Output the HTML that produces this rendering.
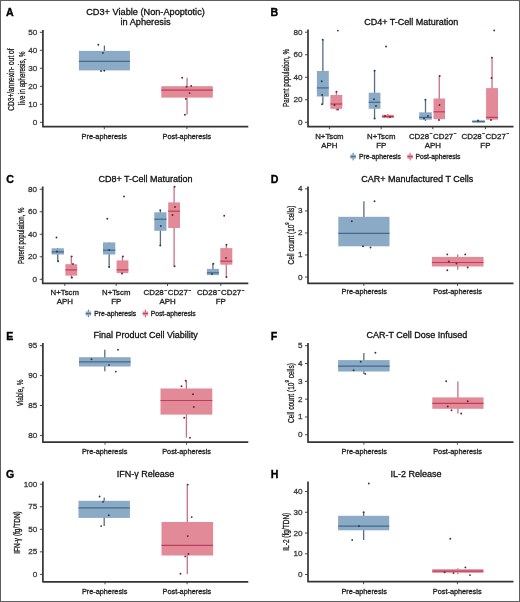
<!DOCTYPE html>
<html><head><meta charset="utf-8"><style>
html,body{margin:0;padding:0;background:#fff;}
svg{display:block;will-change:transform;}
</style></head><body>
<svg width="520" height="602" viewBox="0 0 520 602" font-family="'Liberation Sans', sans-serif">
<rect x="0" y="0" width="520" height="602" fill="#fff"/>
<rect x="0.5" y="0.5" width="519" height="601" fill="none" stroke="#5e5e5e" stroke-width="1"/>
<text x="6.0" y="15.5" font-size="10.6" text-anchor="start" fill="#000" font-weight="bold" stroke="#000" stroke-width="0.35">A</text>
<text x="270.5" y="15.5" font-size="10.6" text-anchor="start" fill="#000" font-weight="bold" stroke="#000" stroke-width="0.35">B</text>
<text x="6.3" y="183" font-size="10.6" text-anchor="start" fill="#000" font-weight="bold" stroke="#000" stroke-width="0.35">C</text>
<text x="270.8" y="183" font-size="10.6" text-anchor="start" fill="#000" font-weight="bold" stroke="#000" stroke-width="0.35">D</text>
<text x="6.3" y="340" font-size="10.6" text-anchor="start" fill="#000" font-weight="bold" stroke="#000" stroke-width="0.35">E</text>
<text x="270.8" y="340" font-size="10.6" text-anchor="start" fill="#000" font-weight="bold" stroke="#000" stroke-width="0.35">F</text>
<text x="6.0" y="478.2" font-size="10.6" text-anchor="start" fill="#000" font-weight="bold" stroke="#000" stroke-width="0.35">G</text>
<text x="270.8" y="478.2" font-size="10.6" text-anchor="start" fill="#000" font-weight="bold" stroke="#000" stroke-width="0.35">H</text>
<path d="M42.9 30 L42.9 126.7 L248.3 126.7" fill="none" stroke="#353535" stroke-width="1.7" stroke-linejoin="round" stroke-linecap="butt"/>
<line x1="39.9" y1="122.3" x2="42.9" y2="122.3" stroke="#353535" stroke-width="0.9"/>
<text x="37.3" y="124.8" font-size="8.1" text-anchor="end" fill="#3a3a3a" font-weight="normal" stroke="#3a3a3a" stroke-width="0.3">0</text>
<line x1="39.9" y1="104.3" x2="42.9" y2="104.3" stroke="#353535" stroke-width="0.9"/>
<text x="37.3" y="106.8" font-size="8.1" text-anchor="end" fill="#3a3a3a" font-weight="normal" stroke="#3a3a3a" stroke-width="0.3">10</text>
<line x1="39.9" y1="86.3" x2="42.9" y2="86.3" stroke="#353535" stroke-width="0.9"/>
<text x="37.3" y="88.8" font-size="8.1" text-anchor="end" fill="#3a3a3a" font-weight="normal" stroke="#3a3a3a" stroke-width="0.3">20</text>
<line x1="39.9" y1="68.3" x2="42.9" y2="68.3" stroke="#353535" stroke-width="0.9"/>
<text x="37.3" y="70.8" font-size="8.1" text-anchor="end" fill="#3a3a3a" font-weight="normal" stroke="#3a3a3a" stroke-width="0.3">30</text>
<line x1="39.9" y1="50.3" x2="42.9" y2="50.3" stroke="#353535" stroke-width="0.9"/>
<text x="37.3" y="52.8" font-size="8.1" text-anchor="end" fill="#3a3a3a" font-weight="normal" stroke="#3a3a3a" stroke-width="0.3">40</text>
<line x1="39.9" y1="32.3" x2="42.9" y2="32.3" stroke="#353535" stroke-width="0.9"/>
<text x="37.3" y="34.8" font-size="8.1" text-anchor="end" fill="#3a3a3a" font-weight="normal" stroke="#3a3a3a" stroke-width="0.3">50</text>
<line x1="104.3" y1="126.7" x2="104.3" y2="129.2" stroke="#353535" stroke-width="0.9"/>
<line x1="186.9" y1="126.7" x2="186.9" y2="129.2" stroke="#353535" stroke-width="0.9"/>
<text x="145.5" y="14.6" font-size="9.2" text-anchor="middle" fill="#111" font-weight="normal" stroke="#111" stroke-width="0.3">CD3+ Viable (Non-Apoptotic)</text>
<text x="145.5" y="24.9" font-size="9.2" text-anchor="middle" fill="#111" font-weight="normal" stroke="#111" stroke-width="0.3">in Apheresis</text>
<text transform="translate(13.8,79.6) rotate(-90)" x="-31.1" y="0" font-size="9.6" textLength="62.2" lengthAdjust="spacingAndGlyphs" fill="#1a1a1a" stroke="#1a1a1a" stroke-width="0.3">CD3+/annexin- out of</text>
<text transform="translate(24.6,78.2) rotate(-90)" x="-26.75" y="0" font-size="9.6" textLength="53.5" lengthAdjust="spacingAndGlyphs" fill="#1a1a1a" stroke="#1a1a1a" stroke-width="0.3">live in apheresis, %</text>
<text x="104.3" y="138.5" font-size="7.3" text-anchor="middle" fill="#222" font-weight="normal" stroke="#222" stroke-width="0.3">Pre-apheresis</text>
<text x="186.9" y="138.5" font-size="7.3" text-anchor="middle" fill="#222" font-weight="normal" stroke="#222" stroke-width="0.3">Post-apheresis</text>
<line x1="104.4" y1="45.5" x2="104.4" y2="71.5" stroke="#556d88" stroke-width="1.3"/>
<rect x="78.9" y="50.9" width="51.0" height="19.500000000000007" fill="#8aaac5"/>
<line x1="78.9" y1="61.4" x2="129.9" y2="61.4" stroke="#44698c" stroke-width="1.2"/>
<circle cx="98.3" cy="44.8" r="0.95" fill="#283a52"/>
<circle cx="103" cy="52.9" r="0.95" fill="#283a52"/>
<circle cx="101" cy="71" r="0.95" fill="#283a52"/>
<circle cx="104.3" cy="70.6" r="0.95" fill="#283a52"/>
<line x1="187.05" y1="77.8" x2="187.05" y2="114.4" stroke="#c86f85" stroke-width="1.3"/>
<rect x="161.3" y="86.2" width="51.5" height="11.399999999999991" fill="#e28a97"/>
<line x1="161.3" y1="90.2" x2="212.8" y2="90.2" stroke="#c03c5c" stroke-width="1.2"/>
<circle cx="182.2" cy="77.8" r="0.95" fill="#5e2438"/>
<circle cx="191.2" cy="85.9" r="0.95" fill="#5e2438"/>
<circle cx="186.6" cy="86.8" r="0.95" fill="#5e2438"/>
<circle cx="189.6" cy="93.1" r="0.95" fill="#5e2438"/>
<circle cx="185.8" cy="98.9" r="0.95" fill="#5e2438"/>
<circle cx="184.9" cy="114.7" r="0.95" fill="#5e2438"/>
<path d="M308 29.5 L308 126.7 L513.5 126.7" fill="none" stroke="#353535" stroke-width="1.7" stroke-linejoin="round" stroke-linecap="butt"/>
<line x1="305" y1="122.3" x2="308" y2="122.3" stroke="#353535" stroke-width="0.9"/>
<text x="302.4" y="124.8" font-size="8.1" text-anchor="end" fill="#3a3a3a" font-weight="normal" stroke="#3a3a3a" stroke-width="0.3">0</text>
<line x1="305" y1="99.78" x2="308" y2="99.78" stroke="#353535" stroke-width="0.9"/>
<text x="302.4" y="102.28" font-size="8.1" text-anchor="end" fill="#3a3a3a" font-weight="normal" stroke="#3a3a3a" stroke-width="0.3">20</text>
<line x1="305" y1="77.26" x2="308" y2="77.26" stroke="#353535" stroke-width="0.9"/>
<text x="302.4" y="79.76" font-size="8.1" text-anchor="end" fill="#3a3a3a" font-weight="normal" stroke="#3a3a3a" stroke-width="0.3">40</text>
<line x1="305" y1="54.74000000000001" x2="308" y2="54.74000000000001" stroke="#353535" stroke-width="0.9"/>
<text x="302.4" y="57.24000000000001" font-size="8.1" text-anchor="end" fill="#3a3a3a" font-weight="normal" stroke="#3a3a3a" stroke-width="0.3">60</text>
<line x1="305" y1="32.22000000000001" x2="308" y2="32.22000000000001" stroke="#353535" stroke-width="0.9"/>
<text x="302.4" y="34.72000000000001" font-size="8.1" text-anchor="end" fill="#3a3a3a" font-weight="normal" stroke="#3a3a3a" stroke-width="0.3">80</text>
<line x1="329.4" y1="126.7" x2="329.4" y2="129.2" stroke="#353535" stroke-width="0.9"/>
<line x1="381.2" y1="126.7" x2="381.2" y2="129.2" stroke="#353535" stroke-width="0.9"/>
<line x1="432.8" y1="126.7" x2="432.8" y2="129.2" stroke="#353535" stroke-width="0.9"/>
<line x1="485.4" y1="126.7" x2="485.4" y2="129.2" stroke="#353535" stroke-width="0.9"/>
<text x="411.3" y="24.5" font-size="9" text-anchor="middle" fill="#111" font-weight="normal" stroke="#111" stroke-width="0.3">CD4+ T-Cell Maturation</text>
<text transform="translate(288.8,78.0) rotate(-90)" x="-28.95" y="0" font-size="9.6" textLength="57.9" lengthAdjust="spacingAndGlyphs" fill="#1a1a1a" stroke="#1a1a1a" stroke-width="0.3">Parent population, %</text>
<text x="329.4" y="138.6" font-size="7.8" text-anchor="middle" fill="#222" font-weight="normal" stroke="#222" stroke-width="0.3">N+Tscm</text>
<text x="329.4" y="147.5" font-size="7.9" text-anchor="middle" fill="#222" font-weight="normal" stroke="#222" stroke-width="0.3">APH</text>
<text x="381.2" y="138.6" font-size="7.8" text-anchor="middle" fill="#222" font-weight="normal" stroke="#222" stroke-width="0.3">N+Tscm</text>
<text x="381.2" y="147.5" font-size="7.9" text-anchor="middle" fill="#222" font-weight="normal" stroke="#222" stroke-width="0.3">FP</text>
<text x="432.8" y="138.6" font-size="7.9" text-anchor="middle" fill="#222" font-weight="normal" stroke="#222" stroke-width="0.3">CD28<tspan dx='0.6' dy='-3.4' font-size='5'>−</tspan><tspan dx='0.4' dy='3.4'>CD27</tspan><tspan dx='0.6' dy='-3.4' font-size='5'>−</tspan></text>
<text x="432.8" y="147.5" font-size="7.9" text-anchor="middle" fill="#222" font-weight="normal" stroke="#222" stroke-width="0.3">APH</text>
<text x="485.4" y="138.6" font-size="7.9" text-anchor="middle" fill="#222" font-weight="normal" stroke="#222" stroke-width="0.3">CD28<tspan dx='0.6' dy='-3.4' font-size='5'>−</tspan><tspan dx='0.4' dy='3.4'>CD27</tspan><tspan dx='0.6' dy='-3.4' font-size='5'>−</tspan></text>
<text x="485.4" y="147.5" font-size="7.9" text-anchor="middle" fill="#222" font-weight="normal" stroke="#222" stroke-width="0.3">FP</text>
<line x1="322.85" y1="39.5" x2="322.85" y2="104.4" stroke="#556d88" stroke-width="1.3"/>
<rect x="316.9" y="71" width="11.900000000000034" height="25.5" fill="#8aaac5"/>
<line x1="316.9" y1="87.9" x2="328.8" y2="87.9" stroke="#44698c" stroke-width="1.2"/>
<circle cx="321.7" cy="81.2" r="0.95" fill="#283a52"/>
<circle cx="322.1" cy="95" r="0.95" fill="#283a52"/>
<circle cx="322" cy="104.2" r="0.95" fill="#283a52"/>
<circle cx="322.7" cy="39.8" r="0.95" fill="#283a52"/>
<line x1="336.35" y1="91.5" x2="336.35" y2="110.4" stroke="#c86f85" stroke-width="1.3"/>
<rect x="330.4" y="95" width="11.900000000000034" height="13.799999999999997" fill="#e28a97"/>
<line x1="330.4" y1="104" x2="342.3" y2="104" stroke="#c03c5c" stroke-width="1.2"/>
<circle cx="337.9" cy="30.6" r="0.95" fill="#5e2438"/>
<circle cx="336.5" cy="91.8" r="0.95" fill="#5e2438"/>
<circle cx="334.5" cy="105" r="0.95" fill="#5e2438"/>
<circle cx="338" cy="109.5" r="0.95" fill="#5e2438"/>
<line x1="374.54999999999995" y1="70.4" x2="374.54999999999995" y2="119" stroke="#556d88" stroke-width="1.3"/>
<rect x="368.7" y="92.7" width="11.699999999999989" height="16.099999999999994" fill="#8aaac5"/>
<line x1="368.7" y1="102.3" x2="380.4" y2="102.3" stroke="#44698c" stroke-width="1.2"/>
<circle cx="374" cy="99.2" r="0.95" fill="#283a52"/>
<circle cx="376" cy="106" r="0.95" fill="#283a52"/>
<circle cx="374.6" cy="70.8" r="0.95" fill="#283a52"/>
<circle cx="374.6" cy="118.5" r="0.95" fill="#283a52"/>
<line x1="387.95000000000005" y1="114" x2="387.95000000000005" y2="118.5" stroke="#c86f85" stroke-width="1.3"/>
<rect x="382.1" y="114.8" width="11.699999999999989" height="3.200000000000003" fill="#e28a97"/>
<line x1="382.1" y1="116.5" x2="393.8" y2="116.5" stroke="#c03c5c" stroke-width="1.2"/>
<circle cx="386" cy="46.5" r="0.95" fill="#5e2438"/>
<circle cx="385" cy="116" r="0.95" fill="#5e2438"/>
<circle cx="390" cy="117" r="0.95" fill="#5e2438"/>
<line x1="425.5" y1="99.6" x2="425.5" y2="121" stroke="#556d88" stroke-width="1.3"/>
<rect x="419.2" y="112.3" width="12.600000000000023" height="7.400000000000006" fill="#8aaac5"/>
<line x1="419.2" y1="117.4" x2="431.8" y2="117.4" stroke="#44698c" stroke-width="1.2"/>
<circle cx="425.4" cy="99.8" r="0.95" fill="#283a52"/>
<circle cx="424" cy="118.5" r="0.95" fill="#283a52"/>
<circle cx="428" cy="116" r="0.95" fill="#283a52"/>
<line x1="439.25" y1="75.8" x2="439.25" y2="119.2" stroke="#c86f85" stroke-width="1.3"/>
<rect x="433.5" y="98.5" width="11.5" height="20.700000000000003" fill="#e28a97"/>
<line x1="433.5" y1="111.8" x2="445" y2="111.8" stroke="#c03c5c" stroke-width="1.2"/>
<circle cx="439.7" cy="76" r="0.95" fill="#5e2438"/>
<circle cx="439.5" cy="105" r="0.95" fill="#5e2438"/>
<circle cx="439" cy="120" r="0.95" fill="#5e2438"/>
<line x1="478.54999999999995" y1="120" x2="478.54999999999995" y2="122.7" stroke="#556d88" stroke-width="1.3"/>
<rect x="472.2" y="120.4" width="12.699999999999989" height="2.299999999999997" fill="#8aaac5"/>
<line x1="472.2" y1="121.5" x2="484.9" y2="121.5" stroke="#44698c" stroke-width="1.2"/>
<circle cx="478" cy="120.5" r="0.95" fill="#283a52"/>
<line x1="492.05" y1="57.4" x2="492.05" y2="119.7" stroke="#c86f85" stroke-width="1.3"/>
<rect x="486.1" y="88.1" width="11.899999999999977" height="31.60000000000001" fill="#e28a97"/>
<line x1="486.1" y1="117.4" x2="498" y2="117.4" stroke="#c03c5c" stroke-width="1.2"/>
<circle cx="494.2" cy="30.4" r="0.95" fill="#5e2438"/>
<circle cx="491.9" cy="57.6" r="0.95" fill="#5e2438"/>
<circle cx="491.5" cy="78" r="0.95" fill="#5e2438"/>
<circle cx="491" cy="120" r="0.95" fill="#5e2438"/>
<line x1="353.09999999999997" y1="152.79999999999998" x2="353.09999999999997" y2="160.4" stroke="#44698c" stroke-width="0.9"/>
<rect x="350.4" y="154.6" width="5.4" height="4" fill="#8aaac5"/>
<line x1="350.4" y1="156.6" x2="355.79999999999995" y2="156.6" stroke="#44698c" stroke-width="0.9"/>
<text x="358.9" y="159.0" font-size="6.75" text-anchor="start" fill="#222" font-weight="normal" stroke="#222" stroke-width="0.3">Pre-apheresis</text>
<line x1="410.09999999999997" y1="152.79999999999998" x2="410.09999999999997" y2="160.4" stroke="#c03c5c" stroke-width="0.9"/>
<rect x="407.4" y="154.6" width="5.4" height="4" fill="#e28a97"/>
<line x1="407.4" y1="156.6" x2="412.79999999999995" y2="156.6" stroke="#c03c5c" stroke-width="0.9"/>
<text x="415.4" y="159.0" font-size="6.75" text-anchor="start" fill="#222" font-weight="normal" stroke="#222" stroke-width="0.3">Post-apheresis</text>
<path d="M42.7 186.6 L42.7 283.4 L248.3 283.4" fill="none" stroke="#353535" stroke-width="1.7" stroke-linejoin="round" stroke-linecap="butt"/>
<line x1="39.7" y1="279.3" x2="42.7" y2="279.3" stroke="#353535" stroke-width="0.9"/>
<text x="37.1" y="281.8" font-size="8.1" text-anchor="end" fill="#3a3a3a" font-weight="normal" stroke="#3a3a3a" stroke-width="0.3">0</text>
<line x1="39.7" y1="256.78000000000003" x2="42.7" y2="256.78000000000003" stroke="#353535" stroke-width="0.9"/>
<text x="37.1" y="259.28000000000003" font-size="8.1" text-anchor="end" fill="#3a3a3a" font-weight="normal" stroke="#3a3a3a" stroke-width="0.3">20</text>
<line x1="39.7" y1="234.26000000000002" x2="42.7" y2="234.26000000000002" stroke="#353535" stroke-width="0.9"/>
<text x="37.1" y="236.76000000000002" font-size="8.1" text-anchor="end" fill="#3a3a3a" font-weight="normal" stroke="#3a3a3a" stroke-width="0.3">40</text>
<line x1="39.7" y1="211.74" x2="42.7" y2="211.74" stroke="#353535" stroke-width="0.9"/>
<text x="37.1" y="214.24" font-size="8.1" text-anchor="end" fill="#3a3a3a" font-weight="normal" stroke="#3a3a3a" stroke-width="0.3">60</text>
<line x1="39.7" y1="189.22000000000003" x2="42.7" y2="189.22000000000003" stroke="#353535" stroke-width="0.9"/>
<text x="37.1" y="191.72000000000003" font-size="8.1" text-anchor="end" fill="#3a3a3a" font-weight="normal" stroke="#3a3a3a" stroke-width="0.3">80</text>
<line x1="64.8" y1="283.4" x2="64.8" y2="285.9" stroke="#353535" stroke-width="0.9"/>
<line x1="116.2" y1="283.4" x2="116.2" y2="285.9" stroke="#353535" stroke-width="0.9"/>
<line x1="167.5" y1="283.4" x2="167.5" y2="285.9" stroke="#353535" stroke-width="0.9"/>
<line x1="220.8" y1="283.4" x2="220.8" y2="285.9" stroke="#353535" stroke-width="0.9"/>
<text x="145.5" y="182.0" font-size="9" text-anchor="middle" fill="#111" font-weight="normal" stroke="#111" stroke-width="0.3">CD8+ T-Cell Maturation</text>
<text transform="translate(24.0,235.8) rotate(-90)" x="-28.2" y="0" font-size="9.6" textLength="56.4" lengthAdjust="spacingAndGlyphs" fill="#1a1a1a" stroke="#1a1a1a" stroke-width="0.3">Parent population, %</text>
<text x="64.8" y="295.3" font-size="7.8" text-anchor="middle" fill="#222" font-weight="normal" stroke="#222" stroke-width="0.3">N+Tscm</text>
<text x="64.8" y="304.1" font-size="7.9" text-anchor="middle" fill="#222" font-weight="normal" stroke="#222" stroke-width="0.3">APH</text>
<text x="116.2" y="295.3" font-size="7.8" text-anchor="middle" fill="#222" font-weight="normal" stroke="#222" stroke-width="0.3">N+Tscm</text>
<text x="116.2" y="304.1" font-size="7.9" text-anchor="middle" fill="#222" font-weight="normal" stroke="#222" stroke-width="0.3">FP</text>
<text x="167.5" y="295.3" font-size="7.9" text-anchor="middle" fill="#222" font-weight="normal" stroke="#222" stroke-width="0.3">CD28<tspan dx='0.6' dy='-3.4' font-size='5'>−</tspan><tspan dx='0.4' dy='3.4'>CD27</tspan><tspan dx='0.6' dy='-3.4' font-size='5'>−</tspan></text>
<text x="167.5" y="304.1" font-size="7.9" text-anchor="middle" fill="#222" font-weight="normal" stroke="#222" stroke-width="0.3">APH</text>
<text x="220.8" y="295.3" font-size="7.9" text-anchor="middle" fill="#222" font-weight="normal" stroke="#222" stroke-width="0.3">CD28<tspan dx='0.6' dy='-3.4' font-size='5'>−</tspan><tspan dx='0.4' dy='3.4'>CD27</tspan><tspan dx='0.6' dy='-3.4' font-size='5'>−</tspan></text>
<text x="220.8" y="304.1" font-size="7.9" text-anchor="middle" fill="#222" font-weight="normal" stroke="#222" stroke-width="0.3">FP</text>
<line x1="57.75" y1="248" x2="57.75" y2="261.4" stroke="#556d88" stroke-width="1.3"/>
<rect x="51.6" y="248.3" width="12.299999999999997" height="6.199999999999989" fill="#8aaac5"/>
<line x1="51.6" y1="251.9" x2="63.9" y2="251.9" stroke="#44698c" stroke-width="1.2"/>
<circle cx="56.5" cy="237.5" r="0.95" fill="#283a52"/>
<circle cx="58.2" cy="261.2" r="0.95" fill="#283a52"/>
<circle cx="57" cy="251.5" r="0.95" fill="#283a52"/>
<line x1="71.30000000000001" y1="256.2" x2="71.30000000000001" y2="278.4" stroke="#c86f85" stroke-width="1.3"/>
<rect x="65.4" y="264.2" width="11.799999999999997" height="11.400000000000034" fill="#e28a97"/>
<line x1="65.4" y1="269.9" x2="77.2" y2="269.9" stroke="#c03c5c" stroke-width="1.2"/>
<circle cx="71.7" cy="256.4" r="0.95" fill="#5e2438"/>
<circle cx="73" cy="264" r="0.95" fill="#5e2438"/>
<circle cx="72" cy="277.5" r="0.95" fill="#5e2438"/>
<line x1="109.15" y1="242.4" x2="109.15" y2="267.2" stroke="#556d88" stroke-width="1.3"/>
<rect x="103" y="242.4" width="12.299999999999997" height="12.099999999999994" fill="#8aaac5"/>
<line x1="103" y1="250.2" x2="115.3" y2="250.2" stroke="#44698c" stroke-width="1.2"/>
<circle cx="107.3" cy="218.7" r="0.95" fill="#283a52"/>
<circle cx="109.2" cy="250" r="0.95" fill="#283a52"/>
<circle cx="109.2" cy="267" r="0.95" fill="#283a52"/>
<line x1="122.5" y1="256.2" x2="122.5" y2="274.1" stroke="#c86f85" stroke-width="1.3"/>
<rect x="116.6" y="260.4" width="11.800000000000011" height="12.700000000000045" fill="#e28a97"/>
<line x1="116.6" y1="269.9" x2="128.4" y2="269.9" stroke="#c03c5c" stroke-width="1.2"/>
<circle cx="124" cy="196.5" r="0.95" fill="#5e2438"/>
<circle cx="122.9" cy="256.4" r="0.95" fill="#5e2438"/>
<circle cx="122" cy="273.5" r="0.95" fill="#5e2438"/>
<line x1="160.4" y1="210" x2="160.4" y2="245.8" stroke="#556d88" stroke-width="1.3"/>
<rect x="154.3" y="212.3" width="12.199999999999989" height="18.5" fill="#8aaac5"/>
<line x1="154.3" y1="219.2" x2="166.5" y2="219.2" stroke="#44698c" stroke-width="1.2"/>
<circle cx="160.3" cy="210.2" r="0.95" fill="#283a52"/>
<circle cx="160.8" cy="226" r="0.95" fill="#283a52"/>
<circle cx="160.3" cy="245.5" r="0.95" fill="#283a52"/>
<line x1="174.1" y1="186.5" x2="174.1" y2="266.5" stroke="#c86f85" stroke-width="1.3"/>
<rect x="168.2" y="202.4" width="11.800000000000011" height="25.599999999999994" fill="#e28a97"/>
<line x1="168.2" y1="211.2" x2="180" y2="211.2" stroke="#c03c5c" stroke-width="1.2"/>
<circle cx="174.6" cy="186.8" r="0.95" fill="#5e2438"/>
<circle cx="175" cy="207" r="0.95" fill="#5e2438"/>
<circle cx="172.5" cy="215" r="0.95" fill="#5e2438"/>
<circle cx="174.6" cy="266.3" r="0.95" fill="#5e2438"/>
<line x1="212.9" y1="263.5" x2="212.9" y2="275.1" stroke="#556d88" stroke-width="1.3"/>
<rect x="206.9" y="268.9" width="12.0" height="6.2000000000000455" fill="#8aaac5"/>
<line x1="206.9" y1="272.8" x2="218.9" y2="272.8" stroke="#44698c" stroke-width="1.2"/>
<circle cx="213.4" cy="263.8" r="0.95" fill="#283a52"/>
<circle cx="212" cy="274" r="0.95" fill="#283a52"/>
<line x1="226.3" y1="244.6" x2="226.3" y2="277.4" stroke="#c86f85" stroke-width="1.3"/>
<rect x="220.3" y="248.1" width="12.0" height="16.599999999999994" fill="#e28a97"/>
<line x1="220.3" y1="261.2" x2="232.3" y2="261.2" stroke="#c03c5c" stroke-width="1.2"/>
<circle cx="224.2" cy="215.8" r="0.95" fill="#5e2438"/>
<circle cx="226.5" cy="244.8" r="0.95" fill="#5e2438"/>
<circle cx="226" cy="258" r="0.95" fill="#5e2438"/>
<circle cx="226.5" cy="277" r="0.95" fill="#5e2438"/>
<line x1="88.4" y1="309.7" x2="88.4" y2="317.3" stroke="#44698c" stroke-width="0.9"/>
<rect x="85.7" y="311.5" width="5.4" height="4" fill="#8aaac5"/>
<line x1="85.7" y1="313.5" x2="91.10000000000001" y2="313.5" stroke="#44698c" stroke-width="0.9"/>
<text x="94.2" y="315.9" font-size="6.75" text-anchor="start" fill="#222" font-weight="normal" stroke="#222" stroke-width="0.3">Pre-apheresis</text>
<line x1="145.39999999999998" y1="309.7" x2="145.39999999999998" y2="317.3" stroke="#c03c5c" stroke-width="0.9"/>
<rect x="142.7" y="311.5" width="5.4" height="4" fill="#e28a97"/>
<line x1="142.7" y1="313.5" x2="148.1" y2="313.5" stroke="#c03c5c" stroke-width="0.9"/>
<text x="150.7" y="315.9" font-size="6.75" text-anchor="start" fill="#222" font-weight="normal" stroke="#222" stroke-width="0.3">Post-apheresis</text>
<path d="M308 186.6 L308 283.4 L513.5 283.4" fill="none" stroke="#353535" stroke-width="1.7" stroke-linejoin="round" stroke-linecap="butt"/>
<line x1="305" y1="277.0" x2="308" y2="277.0" stroke="#353535" stroke-width="0.9"/>
<text x="302.4" y="279.5" font-size="8.1" text-anchor="end" fill="#3a3a3a" font-weight="normal" stroke="#3a3a3a" stroke-width="0.3">0</text>
<line x1="305" y1="254.97" x2="308" y2="254.97" stroke="#353535" stroke-width="0.9"/>
<text x="302.4" y="257.47" font-size="8.1" text-anchor="end" fill="#3a3a3a" font-weight="normal" stroke="#3a3a3a" stroke-width="0.3">1</text>
<line x1="305" y1="232.94" x2="308" y2="232.94" stroke="#353535" stroke-width="0.9"/>
<text x="302.4" y="235.44" font-size="8.1" text-anchor="end" fill="#3a3a3a" font-weight="normal" stroke="#3a3a3a" stroke-width="0.3">2</text>
<line x1="305" y1="210.91" x2="308" y2="210.91" stroke="#353535" stroke-width="0.9"/>
<text x="302.4" y="213.41" font-size="8.1" text-anchor="end" fill="#3a3a3a" font-weight="normal" stroke="#3a3a3a" stroke-width="0.3">3</text>
<line x1="305" y1="188.88" x2="308" y2="188.88" stroke="#353535" stroke-width="0.9"/>
<text x="302.4" y="191.38" font-size="8.1" text-anchor="end" fill="#3a3a3a" font-weight="normal" stroke="#3a3a3a" stroke-width="0.3">4</text>
<line x1="363.8" y1="283.4" x2="363.8" y2="285.9" stroke="#353535" stroke-width="0.9"/>
<line x1="457.5" y1="283.4" x2="457.5" y2="285.9" stroke="#353535" stroke-width="0.9"/>
<text x="417.3" y="181.75" font-size="9" text-anchor="middle" fill="#111" font-weight="normal" stroke="#111" stroke-width="0.3">CAR+ Manufactured T Cells</text>
<text transform="translate(293.5,235) rotate(-90)" x="-29.5" font-size="9.6" textLength="59" lengthAdjust="spacingAndGlyphs" fill="#1a1a1a" stroke="#1a1a1a" stroke-width="0.3">Cell count (10<tspan dy="-4.2" font-size="6.2">9</tspan><tspan dy="4.2"> cells)</tspan></text>
<text x="364.3" y="294" font-size="7.3" text-anchor="middle" fill="#222" font-weight="normal" stroke="#222" stroke-width="0.3">Pre-apheresis</text>
<text x="457.6" y="294" font-size="7.3" text-anchor="middle" fill="#222" font-weight="normal" stroke="#222" stroke-width="0.3">Post-apheresis</text>
<line x1="363.9" y1="201.3" x2="363.9" y2="246.3" stroke="#556d88" stroke-width="1.3"/>
<rect x="338.3" y="216.8" width="51.19999999999999" height="29.5" fill="#8aaac5"/>
<line x1="338.3" y1="233.3" x2="389.5" y2="233.3" stroke="#44698c" stroke-width="1.2"/>
<circle cx="374.5" cy="201.3" r="0.95" fill="#283a52"/>
<circle cx="351.8" cy="221.3" r="0.95" fill="#283a52"/>
<circle cx="363" cy="246.3" r="0.95" fill="#283a52"/>
<circle cx="370.5" cy="247.5" r="0.95" fill="#283a52"/>
<line x1="457.7" y1="254.4" x2="457.7" y2="269.8" stroke="#c86f85" stroke-width="1.3"/>
<rect x="431.9" y="256.9" width="51.60000000000002" height="9.600000000000023" fill="#e28a97"/>
<line x1="431.9" y1="262.5" x2="483.5" y2="262.5" stroke="#c03c5c" stroke-width="1.2"/>
<circle cx="447.3" cy="254.4" r="0.95" fill="#5e2438"/>
<circle cx="465.2" cy="254.4" r="0.95" fill="#5e2438"/>
<circle cx="448.8" cy="261.5" r="0.95" fill="#5e2438"/>
<circle cx="456.5" cy="263.5" r="0.95" fill="#5e2438"/>
<circle cx="447.3" cy="270.2" r="0.95" fill="#5e2438"/>
<circle cx="467.7" cy="267.5" r="0.95" fill="#5e2438"/>
<path d="M42.9 343.1 L42.9 442.2 L248.3 442.2" fill="none" stroke="#353535" stroke-width="1.7" stroke-linejoin="round" stroke-linecap="butt"/>
<line x1="39.9" y1="435.4" x2="42.9" y2="435.4" stroke="#353535" stroke-width="0.9"/>
<text x="37.3" y="437.9" font-size="8.1" text-anchor="end" fill="#3a3a3a" font-weight="normal" stroke="#3a3a3a" stroke-width="0.3">80</text>
<line x1="39.9" y1="405.5" x2="42.9" y2="405.5" stroke="#353535" stroke-width="0.9"/>
<text x="37.3" y="408.0" font-size="8.1" text-anchor="end" fill="#3a3a3a" font-weight="normal" stroke="#3a3a3a" stroke-width="0.3">85</text>
<line x1="39.9" y1="375.59999999999997" x2="42.9" y2="375.59999999999997" stroke="#353535" stroke-width="0.9"/>
<text x="37.3" y="378.09999999999997" font-size="8.1" text-anchor="end" fill="#3a3a3a" font-weight="normal" stroke="#3a3a3a" stroke-width="0.3">90</text>
<line x1="39.9" y1="345.7" x2="42.9" y2="345.7" stroke="#353535" stroke-width="0.9"/>
<text x="37.3" y="348.2" font-size="8.1" text-anchor="end" fill="#3a3a3a" font-weight="normal" stroke="#3a3a3a" stroke-width="0.3">95</text>
<line x1="105" y1="442.2" x2="105" y2="444.7" stroke="#353535" stroke-width="0.9"/>
<line x1="186.5" y1="442.2" x2="186.5" y2="444.7" stroke="#353535" stroke-width="0.9"/>
<text x="145.6" y="338" font-size="9" text-anchor="middle" fill="#111" font-weight="normal" stroke="#111" stroke-width="0.3">Final Product Cell Viability</text>
<text transform="translate(23.4,392.9) rotate(-90)" x="-13.45" y="0" font-size="9.6" textLength="26.9" lengthAdjust="spacingAndGlyphs" fill="#1a1a1a" stroke="#1a1a1a" stroke-width="0.3">Viable, %</text>
<text x="104.6" y="454" font-size="7.3" text-anchor="middle" fill="#222" font-weight="normal" stroke="#222" stroke-width="0.3">Pre-apheresis</text>
<text x="186.6" y="454" font-size="7.3" text-anchor="middle" fill="#222" font-weight="normal" stroke="#222" stroke-width="0.3">Post-apheresis</text>
<line x1="104.8" y1="349.7" x2="104.8" y2="371.2" stroke="#556d88" stroke-width="1.3"/>
<rect x="79" y="357.2" width="51.599999999999994" height="9.300000000000011" fill="#8aaac5"/>
<line x1="79" y1="361.9" x2="130.6" y2="361.9" stroke="#44698c" stroke-width="1.2"/>
<circle cx="118" cy="349.7" r="0.95" fill="#283a52"/>
<circle cx="91.5" cy="359.2" r="0.95" fill="#283a52"/>
<circle cx="109" cy="364.9" r="0.95" fill="#283a52"/>
<circle cx="115.8" cy="371.6" r="0.95" fill="#283a52"/>
<line x1="186.4" y1="380.5" x2="186.4" y2="437.7" stroke="#c86f85" stroke-width="1.3"/>
<rect x="160.5" y="388.5" width="51.80000000000001" height="26.100000000000023" fill="#e28a97"/>
<line x1="160.5" y1="400.5" x2="212.3" y2="400.5" stroke="#c03c5c" stroke-width="1.2"/>
<circle cx="185.7" cy="380.8" r="0.95" fill="#5e2438"/>
<circle cx="181.5" cy="386.2" r="0.95" fill="#5e2438"/>
<circle cx="193" cy="394.2" r="0.95" fill="#5e2438"/>
<circle cx="193.8" cy="406.9" r="0.95" fill="#5e2438"/>
<circle cx="184.2" cy="417.7" r="0.95" fill="#5e2438"/>
<circle cx="190" cy="437.7" r="0.95" fill="#5e2438"/>
<path d="M308 343.1 L308 442.2 L513.5 442.2" fill="none" stroke="#353535" stroke-width="1.7" stroke-linejoin="round" stroke-linecap="butt"/>
<line x1="305" y1="434.8" x2="308" y2="434.8" stroke="#353535" stroke-width="0.9"/>
<text x="302.4" y="437.3" font-size="8.1" text-anchor="end" fill="#3a3a3a" font-weight="normal" stroke="#3a3a3a" stroke-width="0.3">0</text>
<line x1="305" y1="416.98" x2="308" y2="416.98" stroke="#353535" stroke-width="0.9"/>
<text x="302.4" y="419.48" font-size="8.1" text-anchor="end" fill="#3a3a3a" font-weight="normal" stroke="#3a3a3a" stroke-width="0.3">1</text>
<line x1="305" y1="399.16" x2="308" y2="399.16" stroke="#353535" stroke-width="0.9"/>
<text x="302.4" y="401.66" font-size="8.1" text-anchor="end" fill="#3a3a3a" font-weight="normal" stroke="#3a3a3a" stroke-width="0.3">2</text>
<line x1="305" y1="381.34000000000003" x2="308" y2="381.34000000000003" stroke="#353535" stroke-width="0.9"/>
<text x="302.4" y="383.84000000000003" font-size="8.1" text-anchor="end" fill="#3a3a3a" font-weight="normal" stroke="#3a3a3a" stroke-width="0.3">3</text>
<line x1="305" y1="363.52" x2="308" y2="363.52" stroke="#353535" stroke-width="0.9"/>
<text x="302.4" y="366.02" font-size="8.1" text-anchor="end" fill="#3a3a3a" font-weight="normal" stroke="#3a3a3a" stroke-width="0.3">4</text>
<line x1="305" y1="345.70000000000005" x2="308" y2="345.70000000000005" stroke="#353535" stroke-width="0.9"/>
<text x="302.4" y="348.20000000000005" font-size="8.1" text-anchor="end" fill="#3a3a3a" font-weight="normal" stroke="#3a3a3a" stroke-width="0.3">5</text>
<line x1="363.9" y1="442.2" x2="363.9" y2="444.7" stroke="#353535" stroke-width="0.9"/>
<line x1="457.4" y1="442.2" x2="457.4" y2="444.7" stroke="#353535" stroke-width="0.9"/>
<text x="416.9" y="338.1" font-size="9" text-anchor="middle" fill="#111" font-weight="normal" stroke="#111" stroke-width="0.3">CAR-T Cell Dose Infused</text>
<text transform="translate(293.5,393) rotate(-90)" x="-30" font-size="9.6" textLength="60" lengthAdjust="spacingAndGlyphs" fill="#1a1a1a" stroke="#1a1a1a" stroke-width="0.3">Cell count (10<tspan dy="-4.2" font-size="6.2">9</tspan><tspan dy="4.2"> cells)</tspan></text>
<text x="364.3" y="454" font-size="7.3" text-anchor="middle" fill="#222" font-weight="normal" stroke="#222" stroke-width="0.3">Pre-apheresis</text>
<text x="457.6" y="454" font-size="7.3" text-anchor="middle" fill="#222" font-weight="normal" stroke="#222" stroke-width="0.3">Post-apheresis</text>
<line x1="363.85" y1="353.1" x2="363.85" y2="373.9" stroke="#556d88" stroke-width="1.3"/>
<rect x="338.1" y="360.1" width="51.5" height="11.399999999999977" fill="#8aaac5"/>
<line x1="338.1" y1="366.1" x2="389.6" y2="366.1" stroke="#44698c" stroke-width="1.2"/>
<circle cx="375.4" cy="352.7" r="0.95" fill="#283a52"/>
<circle cx="360.7" cy="361.8" r="0.95" fill="#283a52"/>
<circle cx="353.6" cy="370.2" r="0.95" fill="#283a52"/>
<circle cx="365.3" cy="373.9" r="0.95" fill="#283a52"/>
<line x1="457.9" y1="381.5" x2="457.9" y2="413.5" stroke="#c86f85" stroke-width="1.3"/>
<rect x="432.3" y="397.4" width="51.19999999999999" height="11.400000000000034" fill="#e28a97"/>
<line x1="432.3" y1="403.4" x2="483.5" y2="403.4" stroke="#c03c5c" stroke-width="1.2"/>
<circle cx="446.2" cy="381.2" r="0.95" fill="#5e2438"/>
<circle cx="467.7" cy="401.2" r="0.95" fill="#5e2438"/>
<circle cx="447.7" cy="406.5" r="0.95" fill="#5e2438"/>
<circle cx="451.5" cy="410.3" r="0.95" fill="#5e2438"/>
<circle cx="461.2" cy="413.5" r="0.95" fill="#5e2438"/>
<path d="M42.9 481.6 L42.9 581.8 L248.3 581.8" fill="none" stroke="#353535" stroke-width="1.7" stroke-linejoin="round" stroke-linecap="butt"/>
<line x1="39.9" y1="574.4" x2="42.9" y2="574.4" stroke="#353535" stroke-width="0.9"/>
<text x="37.3" y="576.9" font-size="8.1" text-anchor="end" fill="#3a3a3a" font-weight="normal" stroke="#3a3a3a" stroke-width="0.3">0</text>
<line x1="39.9" y1="551.85" x2="42.9" y2="551.85" stroke="#353535" stroke-width="0.9"/>
<text x="37.3" y="554.35" font-size="8.1" text-anchor="end" fill="#3a3a3a" font-weight="normal" stroke="#3a3a3a" stroke-width="0.3">25</text>
<line x1="39.9" y1="529.3" x2="42.9" y2="529.3" stroke="#353535" stroke-width="0.9"/>
<text x="37.3" y="531.8" font-size="8.1" text-anchor="end" fill="#3a3a3a" font-weight="normal" stroke="#3a3a3a" stroke-width="0.3">50</text>
<line x1="39.9" y1="506.75" x2="42.9" y2="506.75" stroke="#353535" stroke-width="0.9"/>
<text x="37.3" y="509.25" font-size="8.1" text-anchor="end" fill="#3a3a3a" font-weight="normal" stroke="#3a3a3a" stroke-width="0.3">75</text>
<line x1="39.9" y1="484.2" x2="42.9" y2="484.2" stroke="#353535" stroke-width="0.9"/>
<text x="37.3" y="486.7" font-size="8.1" text-anchor="end" fill="#3a3a3a" font-weight="normal" stroke="#3a3a3a" stroke-width="0.3">100</text>
<line x1="105" y1="581.8" x2="105" y2="584.3" stroke="#353535" stroke-width="0.9"/>
<line x1="187.1" y1="581.8" x2="187.1" y2="584.3" stroke="#353535" stroke-width="0.9"/>
<text x="145.5" y="476.8" font-size="9" text-anchor="middle" fill="#111" font-weight="normal" stroke="#111" stroke-width="0.3">IFN-γ Release</text>
<text transform="translate(19.5,532.5) rotate(-90)" x="-21.25" y="0" font-size="9.6" textLength="42.5" lengthAdjust="spacingAndGlyphs" fill="#1a1a1a" stroke="#1a1a1a" stroke-width="0.3">IFN-γ (fg/TDN)</text>
<text x="104.6" y="594" font-size="7.3" text-anchor="middle" fill="#222" font-weight="normal" stroke="#222" stroke-width="0.3">Pre-apheresis</text>
<text x="186.9" y="594" font-size="7.3" text-anchor="middle" fill="#222" font-weight="normal" stroke="#222" stroke-width="0.3">Post-apheresis</text>
<line x1="104.2" y1="497.4" x2="104.2" y2="526.1" stroke="#556d88" stroke-width="1.3"/>
<rect x="78.5" y="500.8" width="51.400000000000006" height="17.099999999999966" fill="#8aaac5"/>
<line x1="78.5" y1="507.9" x2="129.9" y2="507.9" stroke="#44698c" stroke-width="1.2"/>
<circle cx="99.6" cy="496.5" r="0.95" fill="#283a52"/>
<circle cx="103" cy="501.8" r="0.95" fill="#283a52"/>
<circle cx="108.8" cy="515.2" r="0.95" fill="#283a52"/>
<circle cx="101.2" cy="526.1" r="0.95" fill="#283a52"/>
<line x1="187.3" y1="484" x2="187.3" y2="574.1" stroke="#c86f85" stroke-width="1.3"/>
<rect x="161.5" y="522" width="51.599999999999994" height="33.5" fill="#e28a97"/>
<line x1="161.5" y1="545.3" x2="213.1" y2="545.3" stroke="#c03c5c" stroke-width="1.2"/>
<circle cx="187.8" cy="484.6" r="0.95" fill="#5e2438"/>
<circle cx="191.7" cy="517.1" r="0.95" fill="#5e2438"/>
<circle cx="187.8" cy="536.1" r="0.95" fill="#5e2438"/>
<circle cx="188.4" cy="554" r="0.95" fill="#5e2438"/>
<circle cx="185.3" cy="556.4" r="0.95" fill="#5e2438"/>
<circle cx="180.5" cy="573.8" r="0.95" fill="#5e2438"/>
<path d="M308 481.6 L308 581.7 L513.5 581.7" fill="none" stroke="#353535" stroke-width="1.7" stroke-linejoin="round" stroke-linecap="butt"/>
<line x1="305" y1="574.5" x2="308" y2="574.5" stroke="#353535" stroke-width="0.9"/>
<text x="302.4" y="577.0" font-size="8.1" text-anchor="end" fill="#3a3a3a" font-weight="normal" stroke="#3a3a3a" stroke-width="0.3">0</text>
<line x1="305" y1="553.75" x2="308" y2="553.75" stroke="#353535" stroke-width="0.9"/>
<text x="302.4" y="556.25" font-size="8.1" text-anchor="end" fill="#3a3a3a" font-weight="normal" stroke="#3a3a3a" stroke-width="0.3">10</text>
<line x1="305" y1="533.0" x2="308" y2="533.0" stroke="#353535" stroke-width="0.9"/>
<text x="302.4" y="535.5" font-size="8.1" text-anchor="end" fill="#3a3a3a" font-weight="normal" stroke="#3a3a3a" stroke-width="0.3">20</text>
<line x1="305" y1="512.25" x2="308" y2="512.25" stroke="#353535" stroke-width="0.9"/>
<text x="302.4" y="514.75" font-size="8.1" text-anchor="end" fill="#3a3a3a" font-weight="normal" stroke="#3a3a3a" stroke-width="0.3">30</text>
<line x1="305" y1="491.5" x2="308" y2="491.5" stroke="#353535" stroke-width="0.9"/>
<text x="302.4" y="494.0" font-size="8.1" text-anchor="end" fill="#3a3a3a" font-weight="normal" stroke="#3a3a3a" stroke-width="0.3">40</text>
<line x1="363.6" y1="581.7" x2="363.6" y2="584.2" stroke="#353535" stroke-width="0.9"/>
<line x1="457.4" y1="581.7" x2="457.4" y2="584.2" stroke="#353535" stroke-width="0.9"/>
<text x="415.9" y="476.5" font-size="9" text-anchor="middle" fill="#111" font-weight="normal" stroke="#111" stroke-width="0.3">IL-2 Release</text>
<text transform="translate(288.5,531.7) rotate(-90)" x="-19.0" y="0" font-size="9.6" textLength="38" lengthAdjust="spacingAndGlyphs" fill="#1a1a1a" stroke="#1a1a1a" stroke-width="0.3">IL-2 (fg/TDN)</text>
<text x="364.1" y="594" font-size="7.3" text-anchor="middle" fill="#222" font-weight="normal" stroke="#222" stroke-width="0.3">Pre-apheresis</text>
<text x="457.2" y="594" font-size="7.3" text-anchor="middle" fill="#222" font-weight="normal" stroke="#222" stroke-width="0.3">Post-apheresis</text>
<line x1="363.65" y1="512" x2="363.65" y2="539.9" stroke="#556d88" stroke-width="1.3"/>
<rect x="338.1" y="515.8" width="51.099999999999966" height="14.5" fill="#8aaac5"/>
<line x1="338.1" y1="526.2" x2="389.2" y2="526.2" stroke="#44698c" stroke-width="1.2"/>
<circle cx="368.8" cy="483.5" r="0.95" fill="#283a52"/>
<circle cx="352.2" cy="539.9" r="0.95" fill="#283a52"/>
<circle cx="363.6" cy="512.3" r="0.95" fill="#283a52"/>
<circle cx="359" cy="526" r="0.95" fill="#283a52"/>
<line x1="457.85" y1="568.2" x2="457.85" y2="574.3" stroke="#c86f85" stroke-width="1.3"/>
<rect x="432.3" y="569.2" width="51.099999999999966" height="3.599999999999909" fill="#e28a97"/>
<line x1="432.3" y1="571.1" x2="483.4" y2="571.1" stroke="#c03c5c" stroke-width="1.2"/>
<circle cx="450.3" cy="538.8" r="0.95" fill="#5e2438"/>
<circle cx="465.4" cy="567.4" r="0.95" fill="#5e2438"/>
<circle cx="470" cy="575.1" r="0.95" fill="#5e2438"/>
<circle cx="453.5" cy="573.1" r="0.95" fill="#5e2438"/>
<circle cx="444.6" cy="572.3" r="0.95" fill="#5e2438"/>
</svg>
</body></html>
